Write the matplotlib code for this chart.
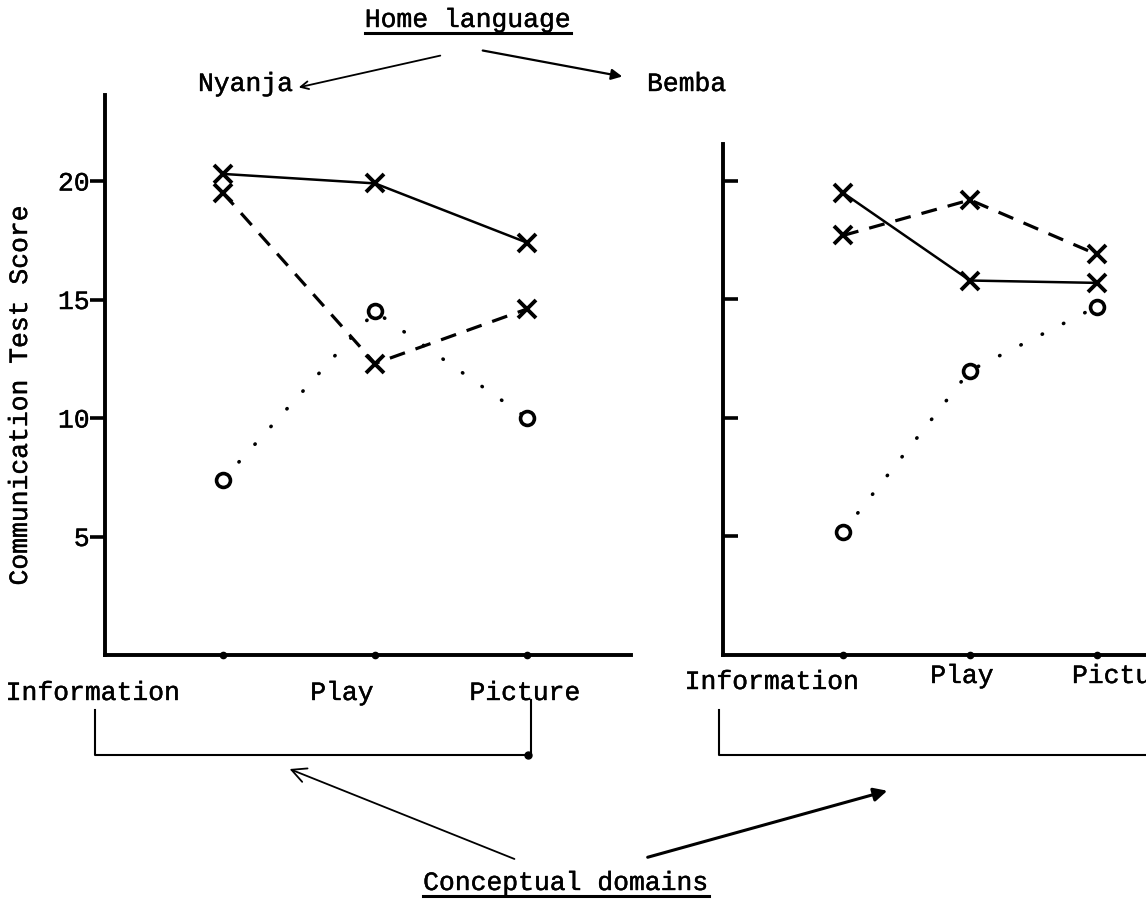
import matplotlib.pyplot as plt
import matplotlib.patheffects as pe
from matplotlib.lines import Line2D
from matplotlib.patches import FancyArrowPatch

W, H = 1146, 901

domains = ["Information", "Play", "Picture"]
x_pos = [0, 1, 2]

# Nyanja home language panel
nyanja_solid_x = [20.3, 19.9, 17.4]
nyanja_dashed_x = [19.5, 12.3, 14.6]
nyanja_dotted_o = [7.4, 14.5, 10.0]

# Bemba home language panel
bemba_solid_x = [19.5, 15.8, 15.7]
bemba_dashed_x = [17.7, 19.2, 16.9]
bemba_dotted_o = [5.2, 12.0, 14.7]

y_ticks = [5, 10, 15, 20]

plt.rcParams["font.family"] = "Liberation Mono"
FS = 19
# typewriter ink is a little heavier than Liberation Mono
INK = [pe.withStroke(linewidth=0.3, foreground="black")]


def fx(x):
    return x / W


def fy(y):
    return 1 - y / H


def draw_series(ax, solid, dashed, dotted):
    ax.plot(x_pos, solid, "-", color="black", lw=1.8, marker="x", ms=13, mew=2.8,
            clip_on=False)
    ax.plot(x_pos, dashed, color="black", lw=2.3, ls=(0, (5, 3.5)), marker="x", ms=13,
            mew=2.8, clip_on=False)
    ax.plot(x_pos, dotted, color="black", lw=2.6, ls=(0, (0.1, 6.5)),
            dash_capstyle="round", marker="o", ms=10, mew=2.6, mfc="white",
            clip_on=False)
    # small dots marking the domain positions on the axis
    ax.plot(x_pos, [0] * len(x_pos), "o", color="black", ms=4.5, clip_on=False)
    for side in ["top", "right"]:
        ax.spines[side].set_visible(False)
    for side in ["left", "bottom"]:
        ax.spines[side].set_linewidth(2.8)
    ax.set_xticks([])
    ax.set_yticks(y_ticks)


fig = plt.figure(figsize=(W / 100, H / 100), dpi=100)

ax1 = fig.add_axes([fx(105), fy(655), fx(631 - 105), (655 - 95) / H])
draw_series(ax1, nyanja_solid_x, nyanja_dashed_x, nyanja_dotted_o)
ax1.set_xlim(-0.776, 2.684)
ax1.set_ylim(0, 23.63)
ax1.tick_params(axis="y", direction="out", length=11, width=2.6, labelsize=FS, pad=0)
ax1.set_yticklabels([str(v) for v in y_ticks])
for t in ax1.get_yticklabels():
    t.set_path_effects(INK)

ax2 = fig.add_axes([fx(723), fy(655), fx(1200 - 723), (655 - 144) / H])
draw_series(ax2, bemba_solid_x, bemba_dashed_x, bemba_dotted_o)
ax2.set_xlim(-0.945, 2.811)
ax2.set_ylim(0, 21.56)
ax2.tick_params(axis="y", direction="in", length=11, width=2.6, labelleft=False)

txt = dict(fontsize=FS, path_effects=INK)

# y axis title
fig.text(fx(20), fy(395), "Communication Test Score", rotation=90, ha="center",
         va="center", **txt)

# domain labels
fig.text(fx(93), fy(693), domains[0], ha="center", va="center", **txt)
fig.text(fx(342), fy(693), domains[1], ha="center", va="center", **txt)
fig.text(fx(525), fy(693), domains[2], ha="center", va="center", **txt)
fig.text(fx(772), fy(682), domains[0], ha="center", va="center", **txt)
fig.text(fx(962), fy(676), domains[1], ha="center", va="center", **txt)
fig.text(fx(1072), fy(676), domains[2], ha="left", va="center", **txt)

# home language labels
fig.text(fx(198), fy(84), "Nyanja", ha="left", va="center", **txt)
fig.text(fx(647), fy(84), "Bemba", ha="left", va="center", **txt)
t_home = fig.text(fx(468), fy(20), "Home language", ha="center", va="center", **txt)
t_conc = fig.text(fx(566), fy(883), "Conceptual domains", ha="center", va="center",
                  **txt)

fig.canvas.draw()
renderer = fig.canvas.get_renderer()
for t in [t_home, t_conc]:
    bb = t.get_window_extent(renderer).transformed(fig.transFigure.inverted())
    fig.add_artist(Line2D([bb.x0, bb.x1], [bb.y0 - 0.001, bb.y0 - 0.001],
                          color="black", lw=2.2, transform=fig.transFigure))


def arrow(x0, y0, x1, y1, lw=1.2, head=12, style="->"):
    fig.add_artist(FancyArrowPatch((fx(x0), fy(y0)), (fx(x1), fy(y1)),
                                   transform=fig.transFigure, arrowstyle=style,
                                   mutation_scale=head, lw=lw, color="black"))


arrow(443, 55, 296, 88, lw=1.3, head=14)
arrow(480, 50, 625, 77, lw=1.6, head=16, style="-|>")
arrow(517, 860, 287, 768, lw=1.3, head=26)
arrow(645, 858, 890, 790, lw=2.2, head=20, style="-|>")


# brackets under the domain labels
def seg(xs, ys, lw=1.5):
    fig.add_artist(Line2D([fx(x) for x in xs], [fy(y) for y in ys], color="black",
                          lw=lw, transform=fig.transFigure))


seg([95, 95, 531, 531], [710, 755, 755, 700])
seg([719, 719, 1146], [710, 755, 755])
fig.add_artist(Line2D([fx(528)], [fy(755)], marker="o", ms=5, color="black",
                      transform=fig.transFigure))

fig.savefig("out.png", dpi=100)
